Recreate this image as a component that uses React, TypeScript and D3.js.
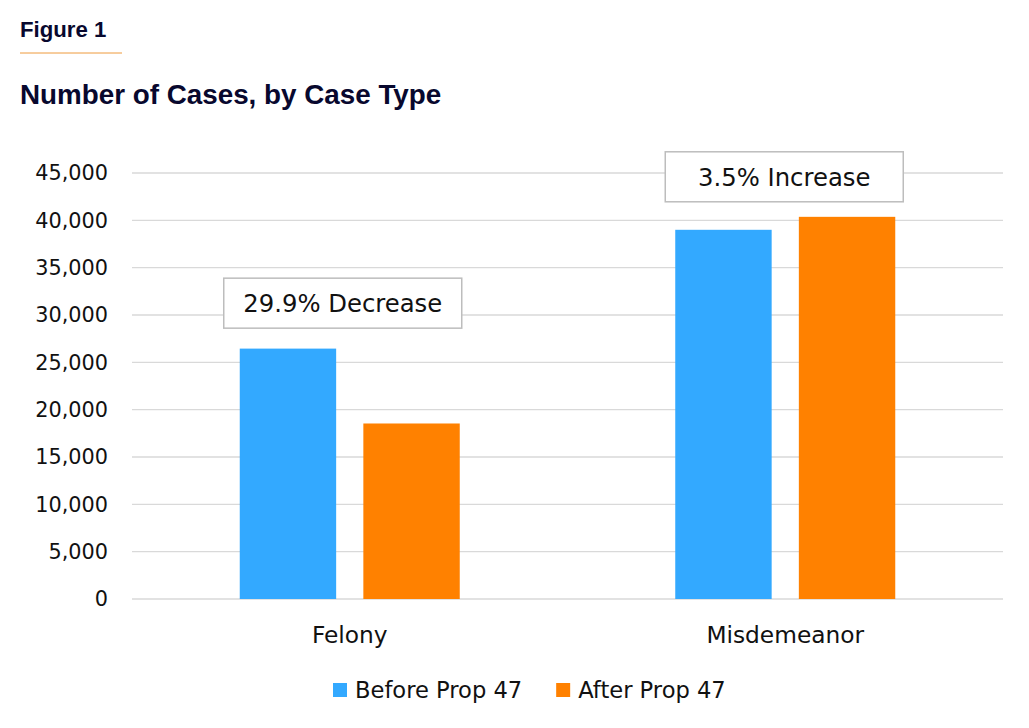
import { useEffect, useRef } from "react";
import * as d3 from "d3";

const categories = ["Felony", "Misdemeanor"];
const seriesNames = ["Before Prop 47", "After Prop 47"];
const beforeValues = [26450, 39000];
const afterValues = [18540, 40370];
const seriesColors = ["#33a9ff", "#ff8100"];
const yTicks = [0, 5000, 10000, 15000, 20000, 25000, 30000, 35000, 40000, 45000];
const annotations = ["29.9% Decrease", "3.5% Increase"];
const annotationLevels = [31250, 44600];

const W = 1029;
const H = 728;

export default function App() {
  const svgRef = useRef<SVGSVGElement>(null);

  useEffect(() => {
    if (!svgRef.current) return;
    const svg = d3.select(svgRef.current);
    svg.selectAll("*").remove();

    const headFont = "'Liberation Sans', Arial, sans-serif";
    const font = "'DejaVu Sans', sans-serif";
    const navy = "#08082e";

    // header
    svg.append("text").attr("x", 20).attr("y", 37)
      .attr("font-family", headFont).attr("font-weight", "bold")
      .attr("font-size", 22.2).attr("fill", navy).text("Figure 1");
    svg.append("line").attr("x1", 20).attr("x2", 122).attr("y1", 53).attr("y2", 53)
      .attr("stroke", "#ee9a3c").attr("stroke-width", 1);
    svg.append("text").attr("x", 20).attr("y", 104)
      .attr("font-family", headFont).attr("font-weight", "bold")
      .attr("font-size", 27.8).attr("fill", navy).text("Number of Cases, by Case Type");

    const left = 132, right = 1003, top = 173, bottom = 599;
    const y = d3.scaleLinear().domain([0, 45000]).range([bottom, top]);
    const x0 = d3.scaleBand().domain(categories).range([left, right]);
    const x1 = d3.scaleBand().domain(seriesNames).range([0, 220]).paddingInner(0.22).paddingOuter(0);

    // grid
    svg.append("g").selectAll("line").data(yTicks).join("line")
      .attr("x1", left).attr("x2", right)
      .attr("y1", (d) => y(d)).attr("y2", (d) => y(d))
      .attr("stroke", "#d9d9d9").attr("stroke-width", 1.3);

    svg.append("g").selectAll("text").data(yTicks).join("text")
      .attr("x", 108).attr("y", (d) => y(d)).attr("dy", "0.36em")
      .attr("text-anchor", "end").attr("font-family", font)
      .attr("font-size", 20.8).attr("fill", "#111")
      .text((d) => d3.format(",")(d));

    const groups = svg.append("g").selectAll("g").data(categories).join("g")
      .attr("transform", (c) => `translate(${x0(c)! + x0.bandwidth() / 2 - 110},0)`);

    groups.selectAll("rect")
      .data((c, i) => [beforeValues[i], afterValues[i]].map((v, j) => ({ v, j })))
      .join("rect")
      .attr("x", (d) => x1(seriesNames[d.j])!)
      .attr("width", x1.bandwidth())
      .attr("y", (d) => y(d.v))
      .attr("height", (d) => bottom - y(d.v))
      .attr("fill", (d) => seriesColors[d.j]);

    // category labels
    svg.append("g").selectAll("text").data(categories).join("text")
      .attr("x", (c) => x0(c)! + x0.bandwidth() / 2).attr("y", 643)
      .attr("text-anchor", "middle").attr("font-family", font)
      .attr("font-size", 23.3).attr("fill", "#111").text((c) => c);

    // annotations (fixed-width callout boxes)
    const bw = 238;
    annotations.forEach((a, i) => {
      const cx = x0(categories[i])! + x0.bandwidth() / 2 - (i === 0 ? 7 : 1);
      const cy = y(annotationLevels[i]);
      const g = svg.append("g");
      g.append("rect").attr("x", cx - bw / 2).attr("y", cy - 25)
        .attr("width", bw).attr("height", 50)
        .attr("fill", "#fff").attr("stroke", "#bdbdbd").attr("stroke-width", 1.5);
      g.append("text").attr("x", cx).attr("y", cy).attr("dy", "0.36em")
        .attr("text-anchor", "middle").attr("font-family", font)
        .attr("font-size", 24.3).attr("fill", "#111").text(a);
    });

    // legend
    const legend = svg.append("g");
    let lx = 333;
    seriesNames.forEach((s, i) => {
      legend.append("rect").attr("x", lx).attr("y", 683).attr("width", 14).attr("height", 14)
        .attr("fill", seriesColors[i]);
      const t = legend.append("text").attr("x", lx + 22).attr("y", 698)
        .attr("font-family", font).attr("font-size", 22.6).attr("fill", "#111").text(s);
      lx += 22 + (t.node() as SVGTextElement).getComputedTextLength() + 34;
    });
  }, []);

  return (
    <svg ref={svgRef} width={W} height={H}
      style={{ display: "block", margin: "-8px", background: "#fff" }} />
  );
}
